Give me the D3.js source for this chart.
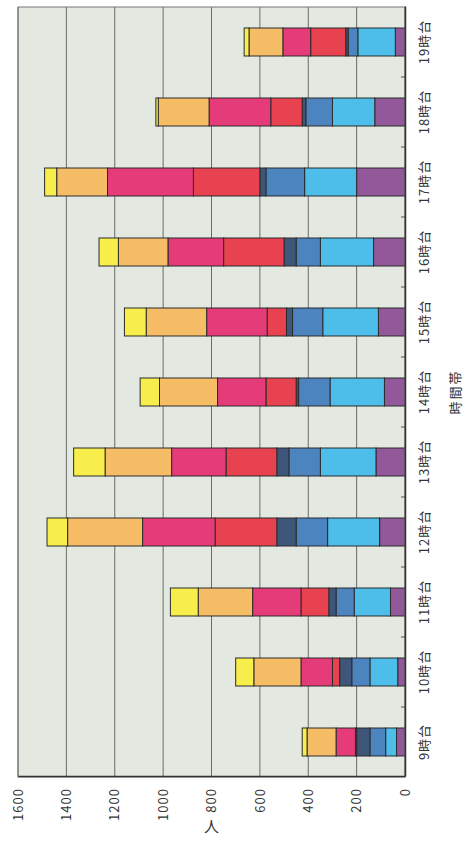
<!DOCTYPE html>
<html>
<head>
<meta charset="utf-8">
<script src="https://cdn.jsdelivr.net/npm/d3@7"></script>
<style>
  body { margin: 0; background: #fff; }
  text { font-family: "Noto Sans CJK JP", "Noto Sans", sans-serif; fill: #333; }
</style>
</head>
<body>
<div id="chart"></div>
<script>
// data (people per hour slot)
let categories = ["9時台", "10時台", "11時台", "12時台", "13時台", "14時台", "15時台", "16時台", "17時台", "18時台", "19時台"]
let value_ticks = [0, 200, 400, 600, 800, 1000, 1200, 1400, 1600]

let purple   = [35, 30, 60, 105, 120, 85, 110, 130, 200, 125, 40]
let sky_blue = [45, 115, 150, 215, 230, 225, 230, 220, 215, 175, 155]
let blue     = [65, 75, 75, 130, 130, 130, 125, 100, 160, 110, 40]
let navy     = [55, 50, 30, 80, 50, 10, 25, 50, 25, 15, 10]
let red      = [5, 30, 115, 255, 210, 125, 80, 250, 275, 130, 145]
let pink     = [80, 130, 200, 300, 225, 200, 250, 230, 355, 255, 115]
let orange   = [120, 195, 225, 310, 275, 240, 250, 205, 210, 210, 140]
let yellow   = [20, 75, 115, 85, 130, 80, 90, 80, 50, 10, 20]

let series_keys = ["purple", "sky_blue", "blue", "navy", "red", "pink", "orange", "yellow"]
let series_vals = [purple, sky_blue, blue, navy, red, pink, orange, yellow]
let colors = ["#93589a", "#4dbde9", "#4c84c0", "#3e5679", "#e8414f", "#e63b79", "#f7bc66", "#f7ee4c"]

let rows = categories.map((c, i) => {
    let row = {cat: c}
    series_keys.forEach((k, j) => row[k] = series_vals[j][i])
    return row
})

let width = 464
let height = 849
// chart is drawn upright, then the whole thing is turned a quarter left
let plot_w = 770
let plot_h = 387

let svg = d3.select("#chart")
    .append("svg")
        .attr("width", width)
        .attr("height", height)

let g = svg.append("g")
    .attr("transform", "translate(18,777) rotate(-90)")

let x = d3.scaleBand()
    .domain(categories)
    .range([0, plot_w])
    .paddingInner(0.6)
    .paddingOuter(0.3)

let y = d3.scaleLinear()
    .domain([0, 1600])
    .range([plot_h, 0])

let color = d3.scaleOrdinal().domain(series_keys).range(colors)

g.append("rect")
    .attr("width", plot_w)
    .attr("height", plot_h)
    .attr("fill", "#e3e9e0")

// grid
g.append("g")
    .selectAll("line")
    .data(value_ticks)
    .enter()
    .append("line")
        .attr("x1", 0)
        .attr("x2", plot_w)
        .attr("y1", d => y(d))
        .attr("y2", d => y(d))
        .attr("stroke", "#6a6a6a")
        .attr("stroke-width", 1)

let stacked = d3.stack().keys(series_keys)(rows)

g.append("g")
    .selectAll("g")
    .data(stacked)
    .enter()
    .append("g")
        .attr("fill", d => color(d.key))
    .selectAll("rect")
    .data(d => d)
    .enter()
    .append("rect")
        .attr("x", d => x(d.data.cat))
        .attr("width", x.bandwidth())
        .attr("y", d => y(d[1]))
        .attr("height", d => y(d[0]) - y(d[1]))
        .attr("stroke", "#2b2b2b")
        .attr("stroke-width", 1)

// frame
g.append("rect")
    .attr("width", plot_w)
    .attr("height", plot_h)
    .attr("fill", "none")
    .attr("stroke", "#777")

// small inward ticks between categories
let gap = (x.step() - x.bandwidth()) / 2
g.append("g")
    .selectAll("line")
    .data(categories.slice(1))
    .enter()
    .append("line")
        .attr("x1", d => x(d) - gap)
        .attr("x2", d => x(d) - gap)
        .attr("y1", plot_h)
        .attr("y2", plot_h - 4)
        .attr("stroke", "#555")

let x_axis = g.append("g")
    .attr("transform", "translate(0," + plot_h + ")")
    .call(d3.axisBottom(x).tickSize(0).tickPadding(15))
x_axis.select(".domain").attr("stroke", "#333").attr("stroke-width", 1.5)
x_axis.selectAll("text").style("font-size", "13px").style("letter-spacing", "1px")

let y_axis = g.append("g")
    .call(d3.axisLeft(y).tickValues(value_ticks).tickFormat(d3.format("d")).tickSize(0).tickPadding(11))
y_axis.select(".domain").attr("stroke", "#333").attr("stroke-width", 1.5)
y_axis.selectAll("text").style("font-size", "13px").style("letter-spacing", "1px")

g.append("text")
    .attr("x", plot_w / 2)
    .attr("y", plot_h + 55)
    .attr("text-anchor", "middle")
    .style("font-size", "13px")
    .style("letter-spacing", "2px")
    .text("時間帯")

g.append("text")
    .attr("transform", "translate(-50," + y(800) + ") rotate(90)")
    .attr("text-anchor", "middle")
    .attr("dy", "0.35em")
    .style("font-size", "15px")
    .text("人")
</script>
</body>
</html>
